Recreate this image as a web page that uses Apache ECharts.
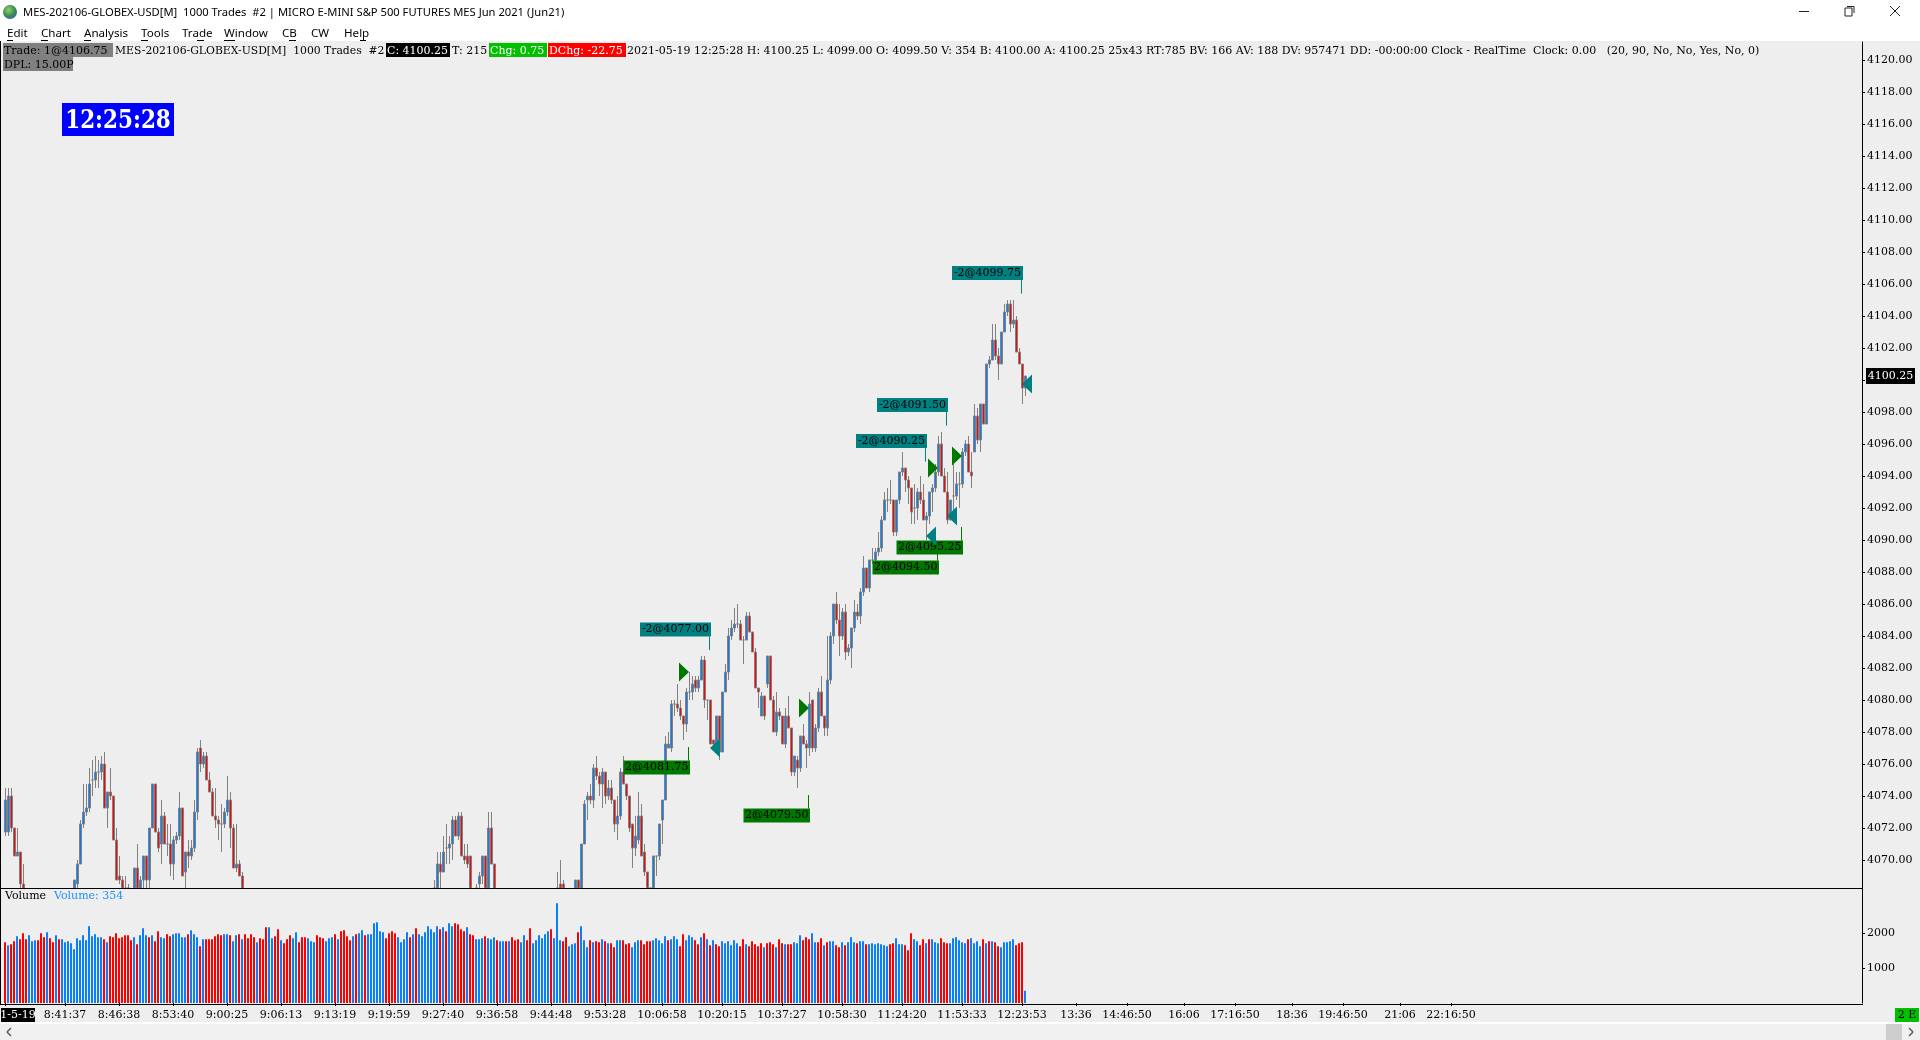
<!DOCTYPE html>
<html>
<head>
<meta charset="utf-8">
<style>html,body{margin:0;padding:0;background:#eee;overflow:hidden}#c{width:1920px;height:1040px}</style>
<script src="https://cdn.jsdelivr.net/npm/echarts@6/dist/echarts.min.js"></script>
</head>
<body>
<div id="c"></div>
<script>
const gap = n => new Array(n).fill(null);

const opens = [
4071.75,4071.75,4074,4072,4070.25,4070.5,4068.5, ...gap(16),
4068,4068.5,4069.75,4072.25,4073,4073.25,4075,4075,4075.5,4075.5,4076,4073.25,4074.25,4074,4071.25,4069,4068.75,4068,4067.75, ...gap(1),
4068,4069.5,4068,4068.75,4070.25,4068.75,4072,4074.75,4071.75,4071,4072.75,4071,4071,4069.75,4071.25,4071.5,4073.25,
4069.25,4070.5,4070.25,4070.75,4073,4077,4076,4076.5,4075,4074.25,4072.75,4072.5,4072.25,4072.25,4073,4073.75,4072,4069.5,4069.75,4069, ...gap(63),
4067.75,4068,4069.75,4069.25,4070.75,4070.75,4071,4072.5,4071.5,4072.75,4070.25,4070.25,4070.25, ...gap(1),
4067.75,4068.5,4069,4070.25,4068,4072,4069.75, ...gap(20),
4067.75,4068.5,4068.5, ...gap(3),
4068,4068.75,4068,4071,4073.75,4074,4073.75,4075.75,4075.25,4074.75,
4075.5,4074,4074.5,4073.75,4072.25,4072.75,4075.5,4074.75,4074,4072.25,
4070.75,4071.25,4072.75,4070.5,4069.25,4068,4068,4070.25,4070.25,4072.5,
4073.75,4077,4077,4079.75,4079.75,4079.5,4079,4078.5,4080.5,4080.5,
4081.25,4080.75,4081.25,4082.5,4080,4080,4077.5,4077.25,4079,4076.75,
4080.5,4081.75,4084,4084.5,4084.75,4084.75,4083.75,4083.75,4085.25,4084.25,
4083,4080.75,4079,4080.25,4081,4082.75,4080,4078,4079.25,4079,
4077.25,4079,4078.25,4075.5,4076.25,4075.75,4077.75,4077.25,4077,4080,
4077,4078.25,4080.5,4079,4078.25,4081.25,4084,4086,4085,4084,
4085.5,4083,4083.25,4084.5,4085.5,4085.25,4086.75,4088.25,4087,4088.75,
4088.75,4089.25,4089.5,4091.25,4092.5,4092.5,4092.5,4090.5,4092.5,4094.25,
4094.5,4093.75,4093.25,4092,4092,4093,4092.5,4091.25,4091.5,4093,
4093.25,4094.25,4096,4094,4093,4091.25,4092.75,4092.75,4093.5,4093.5,
4095.5,4096,4094.25,4095.5,4097.75,4096.25,4098.5,4097.25,4101,4101.25,
4102.5,4101.5,4101,4103,4104.25,4104.75,4103.5,4103.75,4101.75,4101,4099.5
];
const closes = [
4073.75,4074,4072,4070.25,4070.5,4068.5,4068, ...gap(16),
4068.75,4069.75,4072.25,4073,4073.25,4074.75,4075,4075.5,4075.5,4076,4073.25,4074.25,4074,4071.25,4068.75,4068.75,4068,4067.75,4067.5, ...gap(1),
4069.5,4068,4068.75,4070.25,4068.75,4072,4074.75,4071.75,4070.75,4072.75,4071,4071,4069.75,4071.25,4071.5,4073.25,4069,
4070.5,4070.25,4070.75,4073,4076.75,4076,4076.5,4075,4074.25,4072.75,4072.5,4072.25,4072.25,4073,4073.75,4072,4069.5,4069.75,4069,4068, ...gap(63),
4068,4069.75,4069.25,4070.5,4070.75,4071,4072.5,4071.5,4072.75,4070.25,4070,4069.75,4068, ...gap(1),
4068,4069,4070.25,4068,4072,4069.75,4068, ...gap(20),
4068,4068,4068, ...gap(3),
4068.75,4068,4071,4073.5,4074,4073.75,4075.75,4075.25,4074.75,4075.5,
4074,4074.5,4073.75,4072.25,4072.75,4075.5,4074.75,4074,4072,4070.75,
4071.5,4072.75,4070.25,4069.25,4068.25,4067.75,4070.25,4070.25,4072.25,4073.75,
4077.25,4077.25,4079.75,4079.75,4079.5,4079,4078.5,4080.5,4080.5,4081,
4080.75,4081.25,4082.5,4080,4080,4077.25,4077.25,4079,4076.75,4080.5,
4081.75,4084,4084.5,4084.75,4084.75,4083.75,4083.75,4085.25,4084.25,4083,
4080.75,4080.5,4080.25,4079,4082.75,4080,4078,4079.25,4079,4077.25,
4079,4078.25,4075.5,4076.5,4075.75,4077.75,4077.25,4077,4079.75,4077,
4078.25,4080.5,4079,4078.25,4081.25,4084,4086,4085,4084,4085.5,
4083,4083.25,4084.5,4085.5,4085.25,4086.75,4088.25,4087,4088.75,4088.75,
4089.25,4089.5,4091.25,4092.5,4092.5,4092.5,4090.5,4092.5,4094.25,4094.5,
4093.75,4093.25,4091.75,4092,4093,4092.5,4091.25,4091.5,4093,4093.25,
4094.25,4096,4094,4093,4091.25,4092.5,4092.75,4093.5,4093.5,4095.5,
4096,4094.25,4094,4097.75,4096.25,4098.5,4097.25,4101,4101.25,4102.5,
4101.5,4101,4103,4104.25,4104.75,4103.5,4103.75,4101.75,4101,4099.5,4100.25
];
const lows = [
4071.5,4071.5,4071.75,4070.25,4070.25,4068.25,4068, ...gap(16),
4068,4068.25,4069.75,4072,4072.75,4073,4074,4074.5,4074.5,4075,4073.25,4072,4073.75,4071.25,4068.75,4068.5,4068,4067.5,4067.25, ...gap(1),
4068,4068,4068,4068.25,4068.25,4068.25,4072,4071.75,4070.5,4069.75,4071,4070.25,4069,4068.75,4071,4071.25,4069,
4068.25,4069.5,4070,4070.5,4072.5,4075.5,4075.75,4075,4074.25,4072.75,4072,4071.25,4070.5,4072,4072.75,4070.75,4069.5,4069.25,4069,4068, ...gap(63),
4067.5,4068,4068.25,4069.25,4069.75,4069.75,4070,4071.5,4071.25,4070.25,4069.75,4069.5,4068, ...gap(1),
4067.5,4068,4068.5,4068,4068,4069.75,4068, ...gap(20),
4067.5,4068,4068, ...gap(3),
4068,4068,4068,4071,4072.5,4073.5,4073.25,4075,4074,4073.25,
4073.5,4073.75,4073.5,4071.75,4071.25,4072.5,4074.75,4073.75,4071.75,4069.5,
4070.25,4071,4070.25,4069,4068,4067.5,4068,4069,4070,4071,
4073.75,4077,4076.75,4079,4079.25,4078.75,4077.5,4078,4080,4080,
4080.5,4080.5,4081.25,4079.5,4078.75,4077.25,4077,4077,4076.25,4076.75,
4080.5,4081.25,4083.75,4084.25,4084.5,4083.75,4082.25,4083.75,4084.25,4083,
4080.75,4079.5,4079,4078.75,4080.75,4080,4078,4077.75,4078.75,4077.25,
4077,4078.25,4075.25,4075.25,4074.5,4075.5,4077.25,4075.75,4076.5,4076.75,
4076.75,4078,4079,4077.75,4077.75,4081,4083.5,4084.75,4082.75,4083.75,
4082.5,4082.75,4082,4084.25,4085,4084.75,4086.5,4087,4086.75,4088.5,
4088.5,4089,4089.25,4091.25,4091.75,4092.25,4090.25,4090.25,4092.25,4094,
4093,4092.25,4091,4091,4091.25,4092.25,4091.25,4090,4091,4091.75,
4093,4094,4094,4093,4091,4091.25,4091.75,4092.5,4092,4093.25,
4095.25,4094.25,4093.25,4095.5,4096,4095.5,4097.25,4097.25,4100.75,4101.25,
4101.25,4100,4101,4103,4104,4103,4103.25,4101.75,4101,4098.5,4099
];
const highs = [
4074.5,4074.5,4074.5,4072,4072,4070.5,4069.75, ...gap(16),
4068.75,4070,4072.5,4074.75,4074.75,4075.75,4076.25,4076.5,4076.25,4076.5,4076.75,4074.25,4075.75,4074,4072,4070.25,4069,4069,4068.5, ...gap(1),
4069.5,4071,4069,4070.25,4070.25,4072,4074.75,4074.75,4072,4073.75,4073,4072.25,4072.25,4071.5,4071.75,4074.25,4073.25,
4070.5,4071.25,4071.25,4073.75,4077,4077.5,4076.75,4076.75,4075.5,4074.5,4074.5,4072.75,4073.5,4073.25,4075.25,4074.25,4072.25,4072.25,4070,4069.25, ...gap(63),
4068.75,4070.5,4070.5,4071.5,4072.25,4071.5,4072.75,4072.75,4073,4073,4071,4071,4070.25, ...gap(1),
4068.5,4069.25,4070.25,4070.25,4073,4073,4069.75, ...gap(20),
4069.25,4070,4068.75, ...gap(3),
4068.75,4068.75,4071,4073.75,4074.25,4074.75,4076,4076.5,4075.5,4075.75,
4075.5,4075,4075,4073.75,4074,4075.75,4076.5,4074.75,4074,4072.25,
4072.75,4074.25,4073.5,4071,4069.25,4068.25,4070.25,4070.25,4072.25,4073.75,
4077.75,4078,4080,4080,4081,4080,4079,4080.75,4081.75,4081.5,
4081.5,4081.5,4082.75,4082.75,4080,4080,4077.5,4079,4079,4080.5,
4082.25,4084.5,4085,4085.75,4086,4085,4084,4085.5,4085.5,4084.25,
4083.25,4080.75,4080.5,4080.25,4082.75,4082.75,4080.25,4080.5,4079.5,4079,
4079.5,4080.25,4078.25,4076.5,4076.5,4077.75,4078.5,4077.5,4080.5,4080,
4078.5,4080.75,4081.5,4079,4084,4084.25,4086,4086.75,4086,4085.75,
4086,4083.5,4084.5,4086.25,4086,4087,4089,4088.25,4088.75,4089.5,
4089.5,4090.5,4091.5,4093,4093.25,4093.75,4092.5,4092.5,4094.25,4095.5,
4094.5,4094,4093.25,4093.5,4093.25,4094,4093.5,4091.75,4093,4093.5,
4094.75,4096.5,4096.75,4094.5,4094.25,4092.5,4094.75,4094.25,4094.25,4095.75,
4096.25,4096.5,4095.5,4098.5,4098.25,4098.5,4098.5,4101,4101.5,4103.5,
4103.5,4102,4103,4104.75,4105,4105,4105,4104,4102,4101,4100.25
];

const volumes = [
1750,1663,1692,1779,1923,1837,2010,1837,1952,1779,
1808,1808,2010,1894,2038,1865,1750,1952,1837,1837,
1750,1779,1721,1548,1865,1808,1952,1808,2212,1923,
1981,1894,1894,1837,1750,1923,1894,2010,1865,1894,
1952,1952,1808,1894,1692,1952,2154,1952,1894,1952,
1779,2067,1894,1865,1981,1923,1981,2010,2010,1894,
1894,1981,2096,1981,1894,1635,1837,1837,1837,1837,
1923,1981,1952,1981,1981,1952,1779,1952,1981,1837,
1981,1865,1981,1894,1750,1865,1837,2183,2183,1865,
1923,2125,1808,1721,1837,1952,1865,2038,1750,1894,
1894,1865,1779,1750,1952,1894,1865,1779,1865,1894,
1981,1837,2067,2096,1923,1808,1923,1981,2010,2096,
1952,1981,1981,2298,2327,2067,2038,1865,2010,2067,
2010,1894,1750,1837,2038,1894,1981,2154,1981,1923,
2038,2212,2125,2038,2212,2125,2183,2067,2298,2212,
2298,2269,2125,2067,2183,1981,1952,1837,1837,1865,
1923,1865,1837,1894,1808,1779,1779,1779,1779,1894,
1808,1837,1750,1952,1808,2154,1721,1808,1952,1865,
1981,2067,2125,1865,2875,1808,1779,1894,1635,1692,
1721,2038,2212,1808,1606,1808,1750,1779,1750,1837,
1779,1721,1721,1606,1808,1808,1808,1692,1721,1606,
1750,1808,1808,1692,1779,1779,1808,1865,1808,1721,
1923,1808,1837,1923,1837,1635,1981,1808,1952,1894,
1808,1692,1894,2010,1837,1663,1808,1692,1635,1779,
1721,1779,1663,1808,1721,1635,1837,1692,1635,1779,
1692,1635,1721,1606,1721,1750,1692,1606,1837,1721,
1692,1692,1692,1750,1721,1952,1808,1894,1837,2010,
1750,1750,1865,1663,1750,1779,1779,1663,1606,1750,
1663,1750,1894,1750,1721,1779,1779,1692,1692,1721,
1692,1721,1692,1663,1635,1692,1721,1865,1692,1692,
1663,1519,2010,1837,1779,1663,1837,1721,1837,1837,
1750,1721,1865,1750,1721,1721,1865,1894,1808,1750,
1721,1837,1865,1721,1779,1635,1837,1721,1779,1779,
1750,1635,1606,1750,1750,1779,1837,1663,1721,1750,
354
];
const volumeSides = (
"RBRRBRRRBB"+"BRRRBRRBRB"+"BBBBBBBBBB"+"BBBRBRRRRR"+"RRRBRBBBRB"+
"RRBBRRBBBB"+"BRBBBRBRRR"+"RRRBBRBBRB"+"RRRRBRRRBB"+"RRBRRRBBRR"+
"RBBBRRRBBB"+"RBRRRRBRBB"+"RBBBBBBRRR"+"RBBBBRBRBB"+"BBBBBRBRBB"+
"RRRRBRRBBB"+"RBBBRBBRBR"+"RRBBRRBBBB"+"BBRBBBRRBB"+"BRBBBRBRRB"+
"RBRRBBRRRB"+"BBRRRRBBBB"+"BRBBBRRBBB"+"RRBRBRBRRB"+"BBBBBRRBRR"+
"RRRBRRRBRR"+"BRRBBBRRRB"+"BRRBRBBRRB"+"RBBBRBBRBB"+"BBBBBRRBBB"+
"RRRBBRRBRB"+"BBRRRBBBBB"+"BRBBBBRBRB"+"RRBBBBBRRR"+"B").split('');

const tickBars = [0,20,38,56,74,92,110,128,146,164,182,200,219,239,259,279,299,319,339,357,374,393,410,429,446,465,482];
const tickLabels = ['','8:41:37','8:46:38','8:53:40','9:00:25','9:06:13','9:13:19','9:19:59','9:27:40','9:36:58','9:44:48','9:53:28','10:06:58','10:20:15','10:37:27','10:58:30','11:24:20','11:53:33','12:23:53','13:36','14:46:50','16:06','17:16:50','18:36','19:46:50','21:06','22:16:50'];
const priceTicks = [4070,4072,4074,4076,4078,4080,4082,4084,4086,4088,4090,4092,4094,4096,4098,4100,4102,4104,4106,4108,4110,4112,4114,4116,4118,4120];
const volumeTicks = [1000,2000];
const lastPrice = 4100.25;

const buyBars = [226.17,266.17,309.17,317.17];
const buyPrices = [4081.75,4079.5,4094.5,4095.25];
const sellBars = [236.5,315.5,308.5,340.5];
const sellPrices = [4077,4091.5,4090.25,4099.75];

const noteTexts = ['-2@4077.00','-2@4091.50','-2@4090.25','-2@4099.75','2@4081.75','2@4079.50','2@4094.50','2@4095.25'];
const noteBars = [234.6,313.6,306.6,338.6,227.6,267.6,310.6,318.6];
const notePrices = [4083.12,4097.15,4094.9,4105.4,4077.06,4074.06,4089.56,4090.81];
const noteSides = ['S','S','S','S','B','B','B','B'];

const SLOTS = 619, PRICE_LEFT = 4, VOLUME_LEFT = 3.5;
const PRICE_MIN = 4068.25, PRICE_MAX = 4121.125;
const categories = new Array(SLOTS).fill('').map((_v, i) => { const k = tickBars.indexOf(i); return k >= 0 ? tickLabels[k] : ''; });
const isTick = i => tickBars.indexOf(i) >= 0;

const floorAtPanel = v => Math.max(v, PRICE_MIN);
const candleData = opens.map((o, i) => o === null ? '-' : [floorAtPanel(o), floorAtPanel(closes[i]), floorAtPanel(lows[i]), floorAtPanel(highs[i])]);
const volumeData = volumes.map((v, i) => ({ value: v, itemStyle: { color: volumeSides[i] === 'R' ? '#ff0000' : '#0a7ffb' } }));

const SERIF = '"DejaVu Serif"';
const F11 = '11px ' + SERIF;
const TITLE = '11.2px "Noto Sans"';
const MENU = '11.6px "Noto Sans"';
const rect = (x, y, w, h, fill) => ({ type: 'rect', z: 20, silent: true, shape: { x, y, width: w, height: h }, style: { fill } });
const text = (s, x, y, fill, font, align) => ({ type: 'text', z: 21, silent: true, style: { text: s, x, y, fill: fill || '#000', font: font || F11, align: align || 'left', verticalAlign: 'middle' } });
const line = (x1, y1, x2, y2, c, w) => ({ type: 'line', z: 21, silent: true, shape: { x1, y1, x2, y2 }, style: { stroke: c || '#000', lineWidth: w || 1 } });

const chrome = [
  rect(0, 0, 1920, 41, '#ffffff'),
  { type: 'circle', z: 21, silent: true, shape: { cx: 10, cy: 12, r: 7 }, style: { fill: { type: 'radial', x: 0.4, y: 0.35, r: 0.7, colorStops: [{ offset: 0, color: '#8fd16a' }, { offset: 0.6, color: '#3f8f50' }, { offset: 1, color: '#2a6aa8' }] } } },
  text('MES-202106-GLOBEX-USD[M]  1000 Trades  #2 | MICRO E-MINI S&P 500 FUTURES MES Jun 2021 (Jun21)', 23, 13, '#000', TITLE),
  text('Edit', 7, 34, '#000', MENU), text('Chart', 41, 34, '#000', MENU), text('Analysis', 84, 34, '#000', MENU),
  text('Tools', 141, 34, '#000', MENU), text('Trade', 182, 34, '#000', MENU), text('Window', 224, 34, '#000', MENU),
  text('CB', 282, 34, '#000', MENU), text('CW', 311, 34, '#000', MENU), text('Help', 344, 34, '#000', MENU),
  line(7, 40.5, 13, 40.5), line(41, 40.5, 48, 40.5), line(84, 40.5, 91, 40.5), line(141, 40.5, 148, 40.5),
  line(197, 40.5, 204, 40.5), line(224, 40.5, 235, 40.5), line(289, 40.5, 296, 40.5), line(360, 40.5, 366, 40.5),
  line(1799, 11.5, 1809, 11.5, '#222'),
  { type: 'rect', z: 21, silent: true, shape: { x: 1845, y: 8, width: 7, height: 8 }, style: { fill: '#fff', stroke: '#222' } },
  line(1847, 6.5, 1854, 6.5, '#222'), line(1854, 6.5, 1854, 13, '#222'),
  line(1890, 6, 1900, 16, '#222'), line(1900, 6, 1890, 16, '#222'),

  rect(3, 43, 110, 14, '#808080'), text('Trade: 1@4106.75', 4, 51),
  text('MES-202106-GLOBEX-USD[M]  1000 Trades  #2', 115, 51, '#000', '10.8px ' + SERIF),
  rect(386, 43, 64, 14, '#000000'), text('C: 4100.25', 387, 51, '#fff'),
  text('T: 215', 452, 51),
  rect(489, 43, 58, 14, '#00c000'), text('Chg: 0.75', 490, 51, '#fff'),
  rect(548, 43, 78, 14, '#ff0000'), text('DChg: -22.75', 549, 51, '#fff'),
  text('2021-05-19 12:25:28 H: 4100.25 L: 4099.00 O: 4099.50 V: 354 B: 4100.00 A: 4100.25 25x43 RT:785 BV: 166 AV: 188 DV: 957471 DD: -00:00:00 Clock - RealTime  Clock: 0.00   (20, 90, No, No, Yes, No, 0)', 627, 51),
  rect(3, 57, 70, 14, '#808080'), text('DPL: 15.00P', 4, 65),
  rect(62, 103, 112, 33, '#0000ff'),
  { type: 'text', z: 21, silent: true, x: 118, y: 121, scaleY: 1.25, style: { text: '12:25:28', x: 0, y: 0, fill: '#fff', font: 'bold 21.5px ' + SERIF, align: 'center', verticalAlign: 'middle' } },

  rect(0, 41, 1, 964, '#000'),
  rect(0, 888, 1863, 1, '#000'),
  rect(0, 1004, 1863, 1, '#000'),
  text('Volume', 5, 896),
  text('Volume: 354', 54, 896, '#1e90ff'),
  rect(1, 1008, 34, 14, '#000'), text('1-5-19', 18, 1015, '#fff', F11, 'center'),
  rect(1895, 1008, 24, 14, '#00c000'), text('2 E', 1907, 1015, '#000', F11, 'center'),
  rect(0, 1022, 1920, 2, '#ffffff'),
  rect(0, 1024, 1920, 16, '#f0f0f0'),
  rect(1886, 1024, 16, 16, '#cdcdcd'),
  line(11, 1028, 7, 1032, '#555', 1.5), line(7, 1032, 11, 1036, '#555', 1.5),
  line(1909, 1028, 1913, 1032, '#555', 1.5), line(1913, 1032, 1909, 1036, '#555', 1.5)
];

const chart = echarts.init(document.getElementById('c'), null, { renderer: 'canvas' });
chart.setOption({
  animation: false,
  backgroundColor: '#eeeeee',
  textStyle: { fontFamily: SERIF },
  graphic: { elements: chrome },
  grid: [
    { left: PRICE_LEFT, width: SLOTS * 3, top: 42, height: 846 },
    { left: VOLUME_LEFT, width: SLOTS * 3, top: 889, height: 114 }
  ],
  xAxis: [
    { type: 'category', gridIndex: 0, data: categories, show: false, boundaryGap: true },
    { type: 'category', gridIndex: 1, data: categories, boundaryGap: true,
      axisLine: { show: false },
      axisTick: { show: true, alignWithLabel: true, length: 3, interval: i => isTick(i), lineStyle: { color: '#000' } },
      axisLabel: { show: true, interval: i => isTick(i), color: '#000', fontFamily: SERIF, fontSize: 11, margin: 7, hideOverlap: false },
      splitLine: { show: false } },
    { type: 'value', gridIndex: 0, show: false, min: -0.5, max: SLOTS - 0.5 }
  ],
  yAxis: [
    { type: 'value', gridIndex: 0, position: 'right', offset: 1, min: PRICE_MIN, max: PRICE_MAX,
      axisLine: { show: true, onZero: false, lineStyle: { color: '#000' } },
      axisTick: { show: true, length: 3, customValues: priceTicks, lineStyle: { color: '#000' } },
      axisLabel: { show: true, customValues: priceTicks, color: '#000', fontFamily: SERIF, fontSize: 11, margin: 5, padding: [2, 0, 0, 0], formatter: v => v.toFixed(2) },
      splitLine: { show: false } },
    { type: 'value', gridIndex: 1, position: 'right', offset: 1.5, min: 0, max: 114 / 34.7 * 1000,
      axisLine: { show: true, onZero: false, lineStyle: { color: '#000' } },
      axisTick: { show: true, length: 3, customValues: volumeTicks, lineStyle: { color: '#000' } },
      axisLabel: { show: true, customValues: volumeTicks, color: '#000', fontFamily: SERIF, fontSize: 11, margin: 5, padding: [2, 0, 0, 0], formatter: v => String(v) },
      splitLine: { show: false } }
  ],
  series: [
    { type: 'candlestick', xAxisIndex: 0, yAxisIndex: 0, data: candleData, barWidth: 3, clip: true, silent: true,
      itemStyle: { color: '#0a7ffb', color0: '#ff0000', borderColor: '#808080', borderColor0: '#808080', borderColorDoji: '#808080', borderWidth: 1 } },
    { type: 'bar', xAxisIndex: 1, yAxisIndex: 1, data: volumeData, barWidth: 2, silent: true },
    { type: 'custom', xAxisIndex: 2, yAxisIndex: 0, silent: true, z: 6, clip: false,
      data: noteTexts.map((t, i) => [noteBars[i], notePrices[i], i]),
      renderItem: (params, api) => {
        const p = api.coord([api.value(0), api.value(1)]);
        const k = api.value(2);
        const sell = noteSides[k] === 'S';
        const color = sell ? '#008080' : '#007800';
        const w = sell ? 71 : 66.5, h = 14, tick = 13.5;
        const boxY = sell ? p[1] - tick - h : p[1] + tick;
        const x = Math.round(p[0]) + 0.5;
        return { type: 'group', children: [
          { type: 'line', shape: { x1: x, y1: p[1], x2: x, y2: sell ? p[1] - tick : p[1] + tick }, style: { stroke: color, lineWidth: 1 } },
          { type: 'rect', shape: { x: x + 1.5 - w, y: boxY, width: w, height: h }, style: { fill: color } },
          { type: 'text', style: { text: noteTexts[k], x: x + 1.5 - w / 2, y: boxY + h / 2, fill: '#000', font: F11, align: 'center', verticalAlign: 'middle' } }
        ] };
      } },
    { type: 'scatter', name: 'buys', xAxisIndex: 2, yAxisIndex: 0, silent: true, z: 7, symbol: 'triangle', symbolSize: [19, 10], symbolRotate: -90,
      itemStyle: { color: '#007800', opacity: 1 }, data: buyBars.map((b, i) => [b, buyPrices[i]]) },
    { type: 'scatter', name: 'sells', xAxisIndex: 2, yAxisIndex: 0, silent: true, z: 7, symbol: 'triangle', symbolSize: [19, 10], symbolRotate: 90,
      itemStyle: { color: '#008080', opacity: 1 }, data: sellBars.map((b, i) => [b, sellPrices[i]]) },
    { type: 'custom', xAxisIndex: 2, yAxisIndex: 0, silent: true, z: 8, clip: false, data: [[0, lastPrice]],
      renderItem: (params, api) => {
        const p = api.coord([0, api.value(1)]);
        return { type: 'group', children: [
          { type: 'rect', shape: { x: 1866, y: Math.round(p[1]) - 8, width: 49, height: 16 }, style: { fill: '#000' } },
          { type: 'text', style: { text: lastPrice.toFixed(2), x: 1890.5, y: Math.round(p[1]), fill: '#fff', font: F11, align: 'center', verticalAlign: 'middle' } }
        ] };
      } }
  ]
});
</script>
</body>
</html>
